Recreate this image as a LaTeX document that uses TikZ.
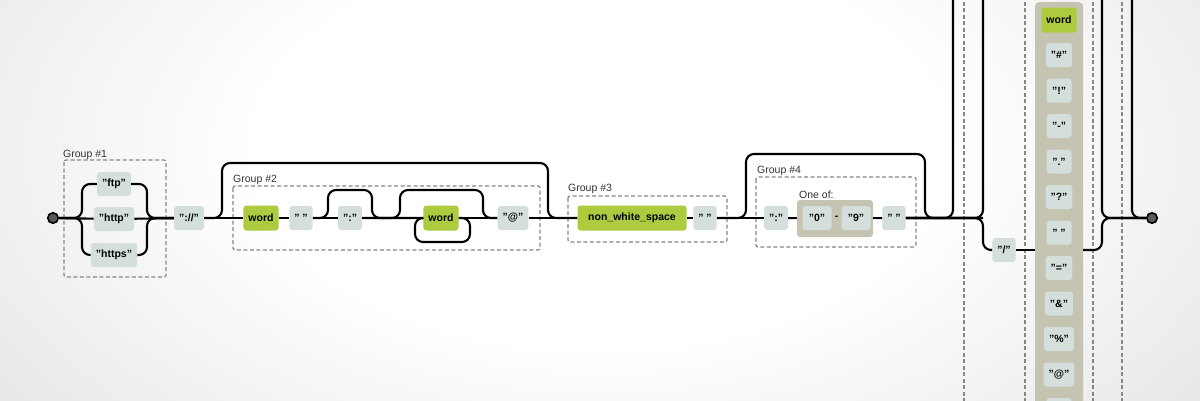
\documentclass[tikz,border=0pt]{standalone}
\usepackage{fontspec}
\setmainfont{Liberation Sans}[Ligatures=ResetAll]
\definecolor{litfill}{RGB}{212,223,220}
\definecolor{wordfill}{RGB}{172,203,62}
\definecolor{setfill}{RGB}{197,195,178}
\definecolor{grpline}{RGB}{135,135,135}
\definecolor{bggrey}{RGB}{198,198,198}
\definecolor{bgdark}{RGB}{182,182,182}
\pgfdeclareradialshading{bgglow}{\pgfpoint{0bp}{0bp}}{color(0bp)=(white); color(12bp)=(white); color(46bp)=(bggrey); color(75bp)=(bgdark)}
\begin{document}
\begin{tikzpicture}[x=1pt,y=-1pt,
    rail/.style={line width=2.1pt,rounded corners=8pt},
    lit/.style={fill=litfill,rounded corners=3pt,minimum height=24pt,minimum width=20pt,inner xsep=5pt,font=\fontsize{10.5}{12}\selectfont\bfseries},
    wordbox/.style={lit,fill=wordfill,minimum height=25pt},
    grpbox/.style={draw=grpline,line width=1.2pt,dash pattern=on 4pt off 2.5pt,rounded corners=2pt},
    grplabel/.style={anchor=base west,inner sep=0pt,font=\fontsize{10.5}{12}\selectfont,text=black!80},
    dot/.style={circle,draw,line width=1.6pt,fill=black!65,minimum size=10.5pt,inner sep=0pt}]
    \useasboundingbox (0,0) rectangle (1200,400);
    \clip (0,0) rectangle (1200,400);
    \shade[shading=bgglow] (-120,-260) rectangle (1320,560);
    \draw[grpbox] (64,160) rectangle (166,277);
    \draw[grpbox] (233,186) rectangle (540,250);
    \draw[grpbox] (568,196) rectangle (727,242);
    \draw[grpbox] (756,177) rectangle (916,247);
    \foreach \x in {964,1025,1093,1122} \draw[grpbox] (\x,-5) -- (\x,405);
    \node[grplabel] (g1) at (63,157.5) {Group \#1};
    \node[grplabel] (g2) at (233,182.5) {Group \#2};
    \node[grplabel] (g3) at (568,191.5) {Group \#3};
    \node[grplabel] (g4) at (757,173.5) {Group \#4};
    \node[dot] (start) at (53,218) {};
    \node[lit] (ftp) at (114,184) {"ftp"};
    \node[lit] (http) at (114,219) {"http"};
    \node[lit] (https) at (114,255) {"https"};
    \node[lit] (proto) at (189,218) {"://"};
    \node[wordbox] (user) at (261,218) {word};
    \node[lit] (sp1) at (301,218) {" "};
    \node[lit] (colon1) at (350,218) {":"};
    \node[wordbox] (pass) at (441,218) {word};
    \node[lit] (at) at (513,218) {"@"};
    \node[wordbox,minimum width=109pt] (host) at (632,218) {non\_white\_space};
    \node[lit] (sp2) at (705,218) {" "};
    \node[lit] (colon2) at (776,218) {":"};
    \node[grplabel] (oneof) at (799,198.5) {One of:};
    \node[fill=setfill,rounded corners=3pt,minimum width=76pt,minimum height=37pt] (range) at (835,218.5) {};
    \node[lit,minimum width=29pt] (d0) at (817,218) {"0"};
    \node[font=\fontsize{10.5}{12}\selectfont\bfseries] (rangesep) at (836.5,218) {-};
    \node[lit,minimum width=29pt] (d9) at (856,218) {"9"};
    \node[lit] (sp3) at (894,218) {" "};
    \node[lit] (slash) at (1004,250) {"/"};
    \node[fill=setfill,rounded corners=4pt,minimum width=48pt,minimum height=420pt,anchor=north] (chars) at (1059,2) {};
    \node[wordbox] (c0) at (1059,20) {word};
    \foreach \t [count=\i] in {{"\#"},{"!"},{"-"},{"."},{"?"},{" "},{"="},{"\&"},{"\%"},{"@"},{}}
        \node[lit,minimum width=25pt] (c\i) at (1059,19.5+35.5*\i) {\t};
    \node[dot] (end) at (1152,218) {};
    \coordinate (s1) at (82,218);
    \coordinate (j1) at (147,218);
    \coordinate (s2) at (222,218);
    \coordinate (j2) at (548,218);
    \coordinate (s3) at (328,218);
    \coordinate (j3) at (372,218);
    \coordinate (s4) at (400,218);
    \coordinate (j4) at (483,218);
    \coordinate (l4a) at (470,218);
    \coordinate (l4b) at (415,242);
    \coordinate (s5) at (746,218);
    \coordinate (j5) at (925,218);
    \coordinate (up1) at (953,218);
    \coordinate (fork) at (983,218);
    \coordinate (mrg) at (1102,218);
    \coordinate (up2) at (1132,218);
    \draw[rail] (start) -- (http);
    \draw[rail] (start) -- (s1) |- (ftp);
    \draw[rail] (start) -- (s1) |- (https);
    \draw[rail] (ftp) -| (j1) -- (proto);
    \draw[rail] (https) -| (j1) -- (proto);
    \draw[rail] (http) -- (proto);
    \draw[rail] (proto) -- (user);
    \draw[rail] (proto) -- (s2) -- ++(0,-55) -| (j2) -- (host);
    \draw[rail] (user) -- (sp1);
    \draw[rail] (sp1) -- (colon1);
    \draw[rail] (sp1) -- (s3) -- ++(0,-28) -| (j3) -- (pass);
    \draw[rail] (colon1) -- (pass);
    \draw[rail] (colon1) -- (s4) -- ++(0,-28) -| (j4) -- (at);
    \draw[rail] (pass) -- (l4a) |- (l4b) |- (pass);
    \draw[rail] (pass) -- (at);
    \draw[rail] (at) -- (host);
    \draw[rail] (host) -- (sp2);
    \draw[rail] (sp2) -- (colon2);
    \draw[rail] (sp2) -- (s5) -- ++(0,-64) -| (j5) -- (fork);
    \draw[rail] (colon2) -- (range);
    \draw[rail] (range) -- (sp3);
    \draw[rail] (sp3) -- (fork);
    \draw[rail] (sp3) -- (up1) -- ++(0,-240);
    \draw[rail] (sp3) -- (fork) -- ++(0,-240);
    \draw[rail] (sp3) -- (fork) |- (slash);
    \draw[rail] (slash) -- (slash -| chars.west);
    \draw[rail] (slash -| chars.east) -- (mrg |- slash) -- (mrg) -- (end);
    \draw[rail] (mrg) ++(0,-240) -- (mrg) -- (end);
    \draw[rail] (up2) ++(0,-240) -- (up2) -- (end);
\end{tikzpicture}
\end{document}
